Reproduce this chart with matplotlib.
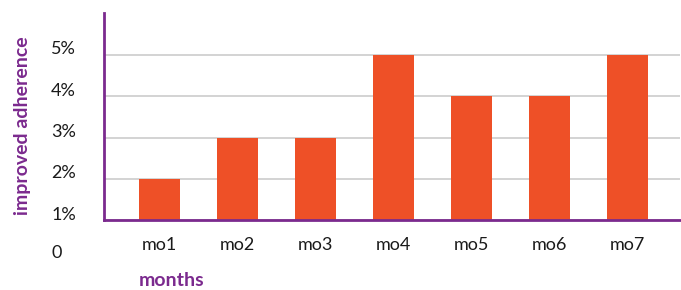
import matplotlib
matplotlib.use("Agg")
import matplotlib.pyplot as plt
from matplotlib.transforms import ScaledTranslation

months = ["mo1", "mo2", "mo3", "mo4", "mo5", "mo6", "mo7"]
adherence = [2, 3, 3, 5, 4, 4, 5]
ytick_vals = [1, 2, 3, 4, 5]
ytick_labels = ["1%", "2%", "3%", "4%", "5%"]

purple = "#7B2A8E"
orange = "#EE5027"
dark = "#1a1a1a"

plt.rcParams["font.family"] = ["Lato", "DejaVu Sans"]

fig = plt.figure(figsize=(6.81, 2.90), dpi=100)
ax = fig.add_axes([0.1527, 0.2397, 0.8458, 0.7153])

x = range(len(months))
ax.bar(x, [v - 1 for v in adherence], bottom=1, width=0.525, color=orange, zorder=3)

ax.set_xlim(-0.71, 6.67)
ax.set_ylim(1, 6)
ax.set_xticks(list(x))
ax.set_xticklabels(months, fontsize=13, color=dark)
ax.set_yticks(ytick_vals)
ax.set_yticklabels(ytick_labels, fontsize=13, color=dark, ha="left")
ax.tick_params(axis="both", length=0)
ax.tick_params(axis="x", pad=12)
ax.tick_params(axis="y", pad=38)
offset = ScaledTranslation(0, 0.07, fig.dpi_scale_trans)
for lab in ax.get_yticklabels():
    lab.set_transform(lab.get_transform() + offset)

ax.grid(axis="y", color="#cccccc", linewidth=1.2, zorder=0)
# the stray "0" label sits below the axis in the original
fig.text(51 / 681, (290 - 253) / 290, "0", fontsize=13, color=dark, ha="left", va="center")

for s in ["top", "right"]:
    ax.spines[s].set_visible(False)
for s in ["left", "bottom"]:
    ax.spines[s].set_color(purple)
    ax.spines[s].set_linewidth(2)
    ax.spines[s].set_zorder(4)

fig.text(23 / 681, (290 - 126) / 290, "improved adherence", rotation=90, color=purple,
         fontsize=14, fontweight="bold", ha="center", va="center")
fig.text(139 / 681, (290 - 281) / 290, "months", color=purple,
         fontsize=14, fontweight="bold", ha="left", va="center")

fig.savefig("out.png", dpi=100)
